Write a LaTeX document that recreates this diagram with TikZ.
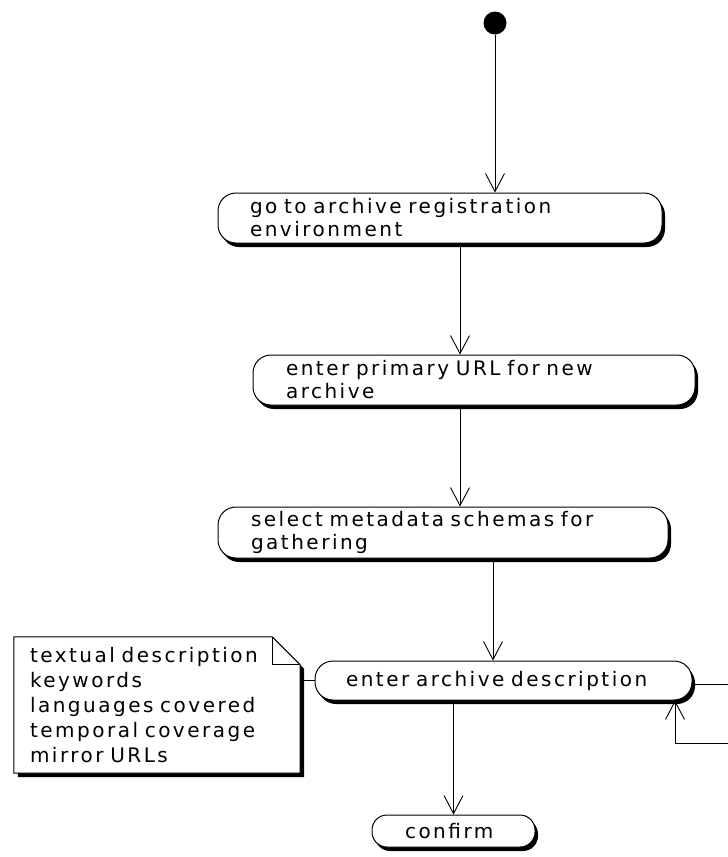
\documentclass[tikz,border=0pt]{standalone}
\usepackage{fontspec}
\newfontfamily\diagfont{DejaVu Sans}[LetterSpace=12.5,WordSpace=1.6]
\usetikzlibrary{arrows.meta,shadows,backgrounds}

\begin{document}
\begin{tikzpicture}[x=1pt,y=-1pt,
  every node/.style={font=\diagfont\fontsize{20}{23}\selectfont},
  action/.style={draw, line width=1pt, fill=white, rounded corners=18pt,
    inner xsep=33pt, inner ysep=0pt, align=left,
    drop shadow={opacity=1, fill=black, shadow xshift=3pt, shadow yshift=-4pt}},
  flow/.style={line width=0.9pt, -{Straight Barb[length=18pt,width=19pt,line width=0.9pt]}},
  link/.style={line width=0.9pt}
]
\useasboundingbox (0,0) rectangle (728,857);

% initial state
\node[circle, fill=black, inner sep=0pt, minimum size=23pt] (start) at (495,23) {};

% activities
\node[action, text width=380pt, minimum height=50pt, inner xsep=32pt] (a1) at (440,218)
  {go to archive registration\\environment};
\node[action, text width=376pt, minimum height=50pt] (a2) at (474,380)
  {enter primary URL for new\\archive};
\node[action, text width=384pt, minimum height=51pt] (a3) at (443,532.5)
  {select metadata schemas for\\gathering};
\node[action, text width=315pt, minimum height=39pt, inner xsep=31pt] (a4) at (503.5,680.5)
  {enter archive description};
\node[action, text width=97pt, minimum height=32pt, rounded corners=15pt] (a5) at (453.5,831)
  {confirm};

% note attached to the description step
\node[align=left, text width=254pt, inner xsep=16pt, inner ysep=0pt,
      minimum width=286pt, minimum height=136pt,
      font=\diagfont\fontsize{20}{25}\selectfont] (note) at (157,705)
  {textual description\\keywords\\languages covered\\temporal coverage\\mirror URLs};
\begin{scope}[on background layer]
  \fill[black, transform canvas={shift={(4pt,-4pt)}}]
    (note.north west) -- ([xshift=-28pt]note.north east) -- ([yshift=-28pt]note.north east)
    -- (note.south east) -- (note.south west) -- cycle;
  \draw[line width=1pt, fill=white]
    (note.north west) -- ([xshift=-28pt]note.north east) -- ([yshift=-28pt]note.north east)
    -- (note.south east) -- (note.south west) -- cycle;
  \draw[line width=1pt]
    ([xshift=-28pt]note.north east) -- ([xshift=-28pt,yshift=-28pt]note.north east)
    -- ([yshift=-28pt]note.north east);
\end{scope}

% control flow
\coordinate (loop) at (734,743);
\draw[flow] (start) -- (start |- a1.north);
\draw[flow] ([xshift=20pt]a1.south) -- ([xshift=20pt]a1.south |- a2.north);
\draw[flow] ([xshift=-14pt]a2.south) -- ([xshift=-14pt]a2.south |- a3.north);
\draw[flow] ([xshift=50pt]a3.south) -- ([xshift=50pt]a3.south |- a4.north);
\draw[flow] (a4.south -| a5.north) -- (a5.north);
\draw[flow] ([yshift=-4pt]a4.east) -| (loop) -| ([xshift=171.5pt]a4.south);
\draw[link] (a4.west -| note.east) -- (a4.west);
\end{tikzpicture}
\end{document}
